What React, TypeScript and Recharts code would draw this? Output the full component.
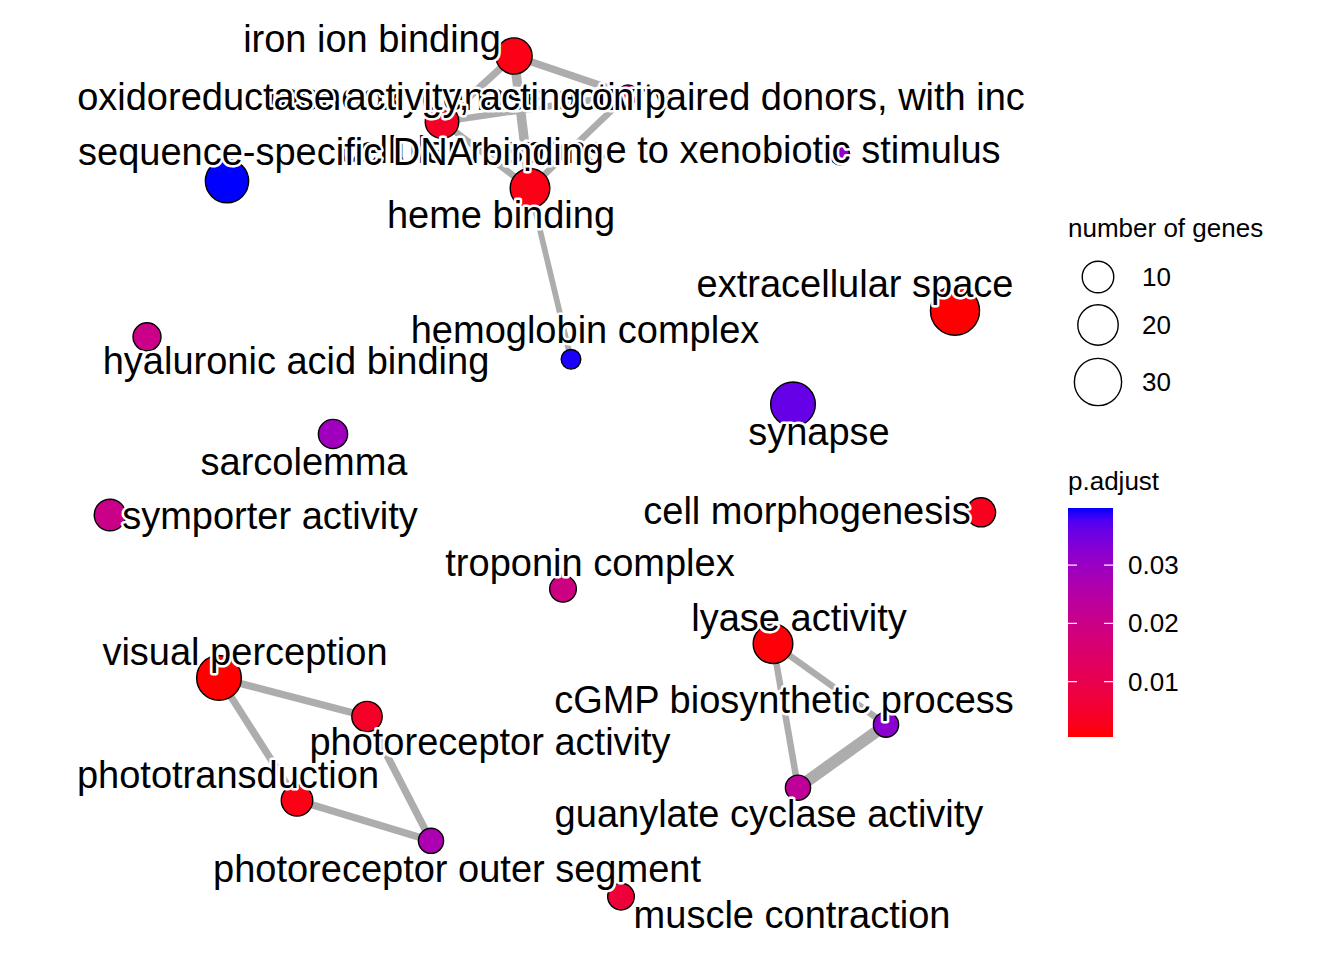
import React from "react";
import { ScatterChart, Scatter, XAxis, YAxis } from "recharts";

// ---- data ----
const termNames = [
  "iron ion binding",
  "monooxygenase activity",
  "oxidoreductase activity, acting on paired donors, with inc",
  "heme binding",
  "cellular response to xenobiotic stimulus",
  "sequence-specific DNA binding",
  "extracellular space",
  "hemoglobin complex",
  "hyaluronic acid binding",
  "synapse",
  "sarcolemma",
  "symporter activity",
  "cell morphogenesis",
  "troponin complex",
  "lyase activity",
  "cGMP biosynthetic process",
  "guanylate cyclase activity",
  "visual perception",
  "photoreceptor activity",
  "phototransduction",
  "photoreceptor outer segment",
  "muscle contraction",
];
// layout coordinates (network layout units)
const layoutX = [45.4, 56.8, 38.2, 47.0, 78.0, 16.7, 89.5, 51.1, 8.7, 73.3, 27.3, 5.0, 92.1, 50.3, 71.3, 82.6, 73.8, 15.9, 30.7, 23.7, 37.1, 56.1];
const layoutY = [96.0, 91.7, 88.7, 81.3, 85.0, 82.1, 67.7, 62.3, 64.8, 57.3, 54.0, 45.0, 45.3, 36.8, 30.7, 21.7, 14.7, 26.9, 22.6, 13.3, 8.8, 2.6];
const geneCounts = [15, 2, 12, 19, 2, 24, 33, 2, 7, 26, 8, 10, 8, 6, 19, 5, 5, 26, 9, 10, 5, 6];
const pAdjust = [0.002, 0.022, 0.004, 0.002, 0.031, 0.0398, 0.0006, 0.0395, 0.02, 0.036, 0.029, 0.02, 0.003, 0.019, 0.001, 0.032, 0.023, 0.0005, 0.004, 0.002, 0.027, 0.007];

// edges: [from, to, similarity weight]
const edgeFrom = [0, 0, 0, 2, 2, 1, 3, 14, 14, 15, 17, 17, 19, 18];
const edgeTo = [1, 2, 3, 1, 3, 3, 7, 15, 16, 16, 18, 19, 20, 20];
const edgeWeight = [0.35, 0.35, 0.5, 0.3, 0.3, 0.3, 0.25, 0.3, 0.3, 0.65, 0.35, 0.35, 0.35, 0.35];

const sizeLegendValues = [10, 20, 30];
const colorTicks = [0.01, 0.02, 0.03];

// label placement (px offsets from node centre to label centre / baseline)
const labelDx = [-142, -158, 109, -29, -170, 114, -100, 14, 149, 26, -29, 160, -174, 27, 26, -102, -29, 26, 123, -69, 26, 171];
const labelDy = [-4, 15, -12, 40, 8, -16, -14, -16, 37, 41, 41, 14, 12, -13, -13, -12, 39, -13, 38, -12, 41, 31];
const labelOrder = [4, 1, 0, 5, 2, 3, 6, 7, 8, 9, 10, 11, 12, 13, 14, 15, 16, 17, 18, 19, 20, 21];

// ---- styles ----
const FONT = "'Liberation Sans', Arial, Helvetica, sans-serif";
const EDGE = "#ADADAD";
const W = 1344;
const H = 960;
const M = { top: 20, right: 284, bottom: 40, left: 60 };

const radius = (n: number) => 5 + 3.4 * Math.sqrt(n);

// Lab interpolation red -> blue (as ggplot's gradient)
function toLin(c: number) {
  c /= 255;
  return c <= 0.04045 ? c / 12.92 : Math.pow((c + 0.055) / 1.055, 2.4);
}
function fromLin(c: number) {
  const v = c <= 0.0031308 ? 12.92 * c : 1.055 * Math.pow(c, 1 / 2.4) - 0.055;
  return Math.max(0, Math.min(255, Math.round(v * 255)));
}
const WX = 0.95047, WY = 1.0, WZ = 1.08883;
function rgbToLab(r: number, g: number, b: number) {
  const R = toLin(r), G = toLin(g), B = toLin(b);
  const X = (R * 0.4124 + G * 0.3576 + B * 0.1805) / WX;
  const Y = (R * 0.2126 + G * 0.7152 + B * 0.0722) / WY;
  const Z = (R * 0.0193 + G * 0.1192 + B * 0.9505) / WZ;
  const f = (t: number) => (t > 0.008856 ? Math.cbrt(t) : 7.787 * t + 16 / 116);
  const fx = f(X), fy = f(Y), fz = f(Z);
  return [116 * fy - 16, 500 * (fx - fy), 200 * (fy - fz)];
}
function labToHex(L: number, a: number, b: number) {
  const fy = (L + 16) / 116;
  const fx = fy + a / 500;
  const fz = fy - b / 200;
  const inv = (t: number) => (t * t * t > 0.008856 ? t * t * t : (t - 16 / 116) / 7.787);
  const X = inv(fx) * WX, Y = inv(fy) * WY, Z = inv(fz) * WZ;
  const R = X * 3.2406 + Y * -1.5372 + Z * -0.4986;
  const G = X * -0.9689 + Y * 1.8758 + Z * 0.0415;
  const B = X * 0.0557 + Y * -0.204 + Z * 1.057;
  const h = (v: number) => fromLin(v).toString(16).padStart(2, "0");
  return "#" + h(R) + h(G) + h(B);
}
const LOW = rgbToLab(255, 0, 0);
const HIGH = rgbToLab(0, 0, 255);
const pMin = Math.min(...pAdjust);
const pMax = Math.max(...pAdjust);
function colorAt(t: number) {
  t = Math.max(0, Math.min(1, t));
  return labToHex(
    LOW[0] + (HIGH[0] - LOW[0]) * t,
    LOW[1] + (HIGH[1] - LOW[1]) * t,
    LOW[2] + (HIGH[2] - LOW[2]) * t
  );
}
const colorOf = (p: number) => colorAt((p - pMin) / (pMax - pMin));

const nodes = termNames.map((name, i) => ({
  name,
  x: layoutX[i],
  y: layoutY[i],
  count: geneCounts[i],
  padj: pAdjust[i],
  dx: labelDx[i],
  dy: labelDy[i],
}));
const labelNodes = labelOrder.map((i) => nodes[i]);
const edges = edgeFrom.map((f, i) => ({
  pts: [nodes[f], nodes[edgeTo[i]]],
  w: edgeWeight[i],
}));

const NodeShape = (props: any) => {
  const { cx, cy, payload } = props;
  if (cx == null || cy == null) return null;
  return (
    <circle cx={cx} cy={cy} r={radius(payload.count)} fill={colorOf(payload.padj)} stroke="#000" strokeWidth={1.4} />
  );
};

const LabelShape = (props: any) => {
  const { cx, cy, payload } = props;
  if (cx == null || cy == null) return null;
  return (
    <text
      x={cx + payload.dx}
      y={cy + payload.dy}
      textAnchor="middle"
      fontFamily={FONT}
      fontSize={38}
      fill="#000"
      stroke="#fff"
      strokeWidth={5}
      strokeLinejoin="round"
      paintOrder="stroke"
    >
      {payload.name}
    </text>
  );
};

const NoShape = () => <g />;

// legend geometry
const BAR_X = 1068, BAR_Y = 508, BAR_W = 45, BAR_H = 229;
const barY = (v: number) => BAR_Y + BAR_H - ((v - pMin) / (pMax - pMin)) * BAR_H;
const sizeLegendY = [277, 325, 382];
const LEG_FS = 26;

export default function App() {
  const stops = Array.from({ length: 21 }, (_, k) => k / 20);
  return (
    <div style={{ position: "absolute", left: 0, top: 0, width: W, height: H, background: "#fff" }}>
      <ScatterChart width={W} height={H} margin={M}>
        <XAxis type="number" dataKey="x" domain={[0, 100]} hide />
        <YAxis type="number" dataKey="y" domain={[0, 100]} hide />
        {edges.map((e, i) => (
          <Scatter
            key={"e" + i}
            data={e.pts}
            line={{ stroke: EDGE, strokeWidth: 2 + e.w * 15 }}
            stroke={EDGE}
            strokeWidth={2 + e.w * 15}
            shape={NoShape}
            isAnimationActive={false}
          />
        ))}
        <Scatter data={nodes} shape={NodeShape} isAnimationActive={false} />
        <Scatter data={labelNodes} shape={LabelShape} isAnimationActive={false} />
      </ScatterChart>
      <svg width={W} height={H} style={{ position: "absolute", left: 0, top: 0, pointerEvents: "none" }}>
        <defs>
          <linearGradient id="pgrad" x1="0" y1="1" x2="0" y2="0">
            {stops.map((s) => (
              <stop key={s} offset={s} stopColor={colorAt(s)} />
            ))}
          </linearGradient>
        </defs>
        <text x={1068} y={237} fontFamily={FONT} fontSize={LEG_FS} fill="#000">
          number of genes
        </text>
        {sizeLegendValues.map((v, i) => (
          <g key={v}>
            <circle cx={1098} cy={sizeLegendY[i]} r={radius(v)} fill="#fff" stroke="#000" strokeWidth={1.4} />
            <text x={1142} y={sizeLegendY[i]} dominantBaseline="central" fontFamily={FONT} fontSize={LEG_FS} fill="#000">
              {v}
            </text>
          </g>
        ))}
        <text x={1068} y={490} fontFamily={FONT} fontSize={LEG_FS} fill="#000">
          p.adjust
        </text>
        <rect x={BAR_X} y={BAR_Y} width={BAR_W} height={BAR_H} fill="url(#pgrad)" />
        {colorTicks.map((t) => (
          <g key={t}>
            <line x1={BAR_X} x2={BAR_X + 9} y1={barY(t)} y2={barY(t)} stroke="#fff" strokeWidth={1.2} />
            <line x1={BAR_X + BAR_W - 9} x2={BAR_X + BAR_W} y1={barY(t)} y2={barY(t)} stroke="#fff" strokeWidth={1.2} />
            <text x={1128} y={barY(t)} dominantBaseline="central" fontFamily={FONT} fontSize={LEG_FS} fill="#000">
              {t.toFixed(2)}
            </text>
          </g>
        ))}
      </svg>
    </div>
  );
}
